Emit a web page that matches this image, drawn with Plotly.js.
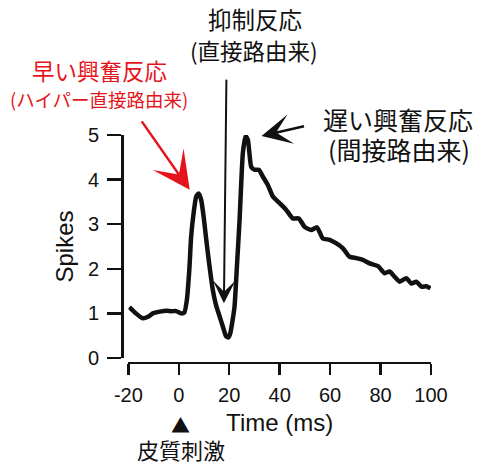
<!DOCTYPE html>
<html>
<head>
<meta charset="utf-8">
<script src="https://cdn.plot.ly/plotly-3.0.1.min.js"></script>
<style>html,body{margin:0;padding:0;background:#fff;}#chart{width:482px;height:464px;}</style>
</head>
<body>
<div id="chart"></div>
<script>
// Data (time in ms, spike count)
const timeMs = [-19.6, -17, -14.3, -12, -10.3, -7.5, -5, -3, -1, 1, 2.2, 3.2, 4.2, 4.9, 6, 6.9, 7.9, 8.9, 9.9, 10.9, 12.2, 13.5, 14.8, 16.2, 17.5, 18.8, 19.7, 20.4, 21.2, 22.1, 23.1, 24.1, 25.4, 26.5, 27.4, 28.7, 30, 31.7, 33.3, 35.3, 37.3, 40, 42.6, 45.2, 47.6, 49.9, 52.5, 54.8, 57.1, 59.8, 62.5, 65.1, 67.7, 70.4, 73, 75.7, 79, 81.6, 83.6, 85.6, 87.6, 90.2, 92.2, 94.2, 96.2, 98.2, 99.8];
const spikes = [1.14, 1.0, 0.89, 0.93, 1.0, 1.04, 1.06, 1.05, 1.05, 1.0, 1.02, 1.3, 2.0, 2.72, 3.3, 3.62, 3.69, 3.54, 3.15, 2.65, 2.05, 1.52, 1.18, 0.93, 0.7, 0.48, 0.46, 0.55, 0.8, 1.15, 2.1, 3.09, 4.59, 4.98, 4.89, 4.29, 4.22, 4.22, 4.07, 3.88, 3.62, 3.47, 3.32, 3.13, 3.13, 2.94, 2.87, 2.93, 2.68, 2.65, 2.57, 2.46, 2.27, 2.24, 2.2, 2.12, 2.06, 1.9, 1.94, 1.82, 1.71, 1.79, 1.67, 1.71, 1.6, 1.61, 1.56];
const xTicks = [-20, 0, 20, 40, 60, 80, 100];
const yTicks = [0, 1, 2, 3, 4, 5];

// Labels
const inhibLabel = ['抑制反応', '(直接路由来)'];
const earlyLabel = ['早い興奮反応', '(ハイパー直接路由来)'];
const lateLabel = ['遅い興奮反応', '(間接路由来)'];
const stimLabel = '皮質刺激';

const LAT = 'Liberation Sans, Arial, sans-serif';
const CJK = 'Noto Sans CJK JP, sans-serif';
const RED = '#e5141c';

const trace = {
  x: timeMs, y: spikes, type: 'scatter', mode: 'lines',
  line: {color: '#111', width: 4.5, shape: 'spline', smoothing: 0.5},
  hoverinfo: 'skip'
};

function txt(text, x, y, size, color) {
  return {text: text, x: x, y: y, xref: 'paper', yref: 'paper', showarrow: false,
    xanchor: 'center', yanchor: 'middle',
    font: {family: CJK, size: size, color: color || '#111'}};
}
function arrow(x, y, ax, ay, color, width, size) {
  return {text: '', x: x, y: y, xref: 'x', yref: 'y', showarrow: true,
    ax: ax, ay: ay, arrowhead: 3, arrowsize: size, arrowwidth: width,
    arrowcolor: color, standoff: 0};
}

const layout = {
  width: 482, height: 464,
  margin: {l: 118, r: 51, t: 135, b: 96, pad: 0},
  paper_bgcolor: '#fff', plot_bgcolor: '#fff',
  showlegend: false,
  xaxis: {
    domain: [0.033, 1], anchor: 'free', position: 0.0215,
    range: [-20, 100], tickvals: xTicks, ticktext: xTicks.map(String),
    showline: true, linecolor: '#111', linewidth: 2.5,
    ticks: 'outside', ticklen: 11, tickwidth: 2.5, tickcolor: '#111',
    ticklabelstandoff: 3,
    showgrid: false, zeroline: false,
    tickfont: {family: LAT, size: 20, color: '#111'},
    title: {text: 'Time (ms)', font: {family: LAT, size: 24, color: '#111'}, standoff: 8}
  },
  yaxis: {
    domain: [0.043, 1], anchor: 'free', position: 0.0128,
    range: [0, 5], tickvals: yTicks, ticktext: yTicks.map(String),
    showline: true, linecolor: '#111', linewidth: 2.5,
    ticks: 'outside', ticklen: 14, tickwidth: 2.5, tickcolor: '#111',
    ticklabelstandoff: 4,
    showgrid: false, zeroline: false,
    tickfont: {family: LAT, size: 20, color: '#111'},
    title: {text: 'Spikes', font: {family: LAT, size: 24, color: '#111'}, standoff: 6}
  },
  annotations: [
    txt(inhibLabel[0], 0.4377, 1.496, 23.5),
    txt(inhibLabel[1], 0.4345, 1.365, 22.5),
    txt(earlyLabel[0], -0.0607, 1.281, 22.5, RED),
    txt(earlyLabel[1], -0.0607, 1.154, 18.5, RED),
    txt(lateLabel[0], 0.893, 1.068, 25),
    txt(lateLabel[1], 0.8978, 0.938, 25),
    txt(stimLabel, 0.2013, -0.346, 22),
    txt('▲', 0.1997, -0.243, 19),
    arrow(4.33, 3.77, -49, -70, RED, 2.5, 2.5),
    arrow(17.9, 1.23, 2.5, -225, '#111', 2, 1.9),
    arrow(32.8, 4.98, 44, -10, '#111', 2.5, 2.0)
  ]
};

Plotly.newPlot('chart', [trace], layout, {displayModeBar: false, staticPlot: true});
</script>
</body>
</html>
